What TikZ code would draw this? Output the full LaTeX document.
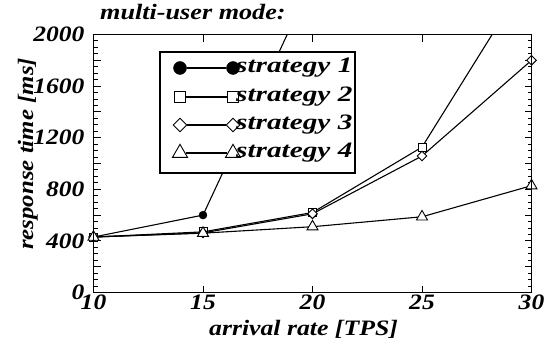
\documentclass[tikz,border=0pt]{standalone}
\usepackage{fontspec}
\usepackage{graphicx}
\setmainfont{Liberation Serif}
\usetikzlibrary{shapes.geometric}
\newcommand\hstretch[2]{\scalebox{#1}[1]{#2}}
\begin{document}
\begin{tikzpicture}[x=1pt,y=1pt,
  lbl/.style={font=\fontsize{22}{26}\selectfont\bfseries\itshape, inner sep=0pt},
  dline/.style={line width=1.1pt},
  mcirc/.style={circle, fill=black, draw=black, inner sep=0pt, minimum size=#1},
  msq/.style={rectangle, fill=white, draw=black, line width=0.9pt, inner sep=0pt, minimum size=#1},
  mdia/.style={diamond, fill=white, draw=black, line width=0.9pt, inner sep=0pt, minimum width=#1, minimum height=#1},
  mtri/.style={isosceles triangle, isosceles triangle apex angle=60, shape border rotate=90, fill=white, draw=black, line width=0.9pt, inner sep=0pt, minimum height=0.8*#1, minimum width=#1},
  frame/.style={line width=1.8pt},
  tk/.style={line width=1pt}
]
\useasboundingbox (0,0) rectangle (549,343);
% title and axis labels
\node[lbl, anchor=base west] (title) at (100,323) {\hstretch{1.19}{multi-user mode:}};
\node[lbl, anchor=base] (xlab) at (303.5,8) {\hstretch{1.17}{arrival rate [TPS]}};
\node[lbl, anchor=base, rotate=90] (ylab) at (33,189) {\hstretch{1.13}{response time [ms]}};
\begin{scope}[shift={(93.5pt,50.5pt)}, x=21.9pt, y=0.129pt]
  % ticks
  \foreach \v in {50,100,...,1950} {
    \draw[tk] (0,\v) -- ++(4pt,0);
    \draw[tk] (20,\v) -- ++(-4pt,0);
  }
  \foreach \v in {200,400,...,1800} {
    \draw[tk] (0,\v) -- ++(7pt,0);
    \draw[tk] (20,\v) -- ++(-7pt,0);
  }
  \foreach \t in {5,10,15} {
    \draw[tk] (\t,0) -- ++(0,7pt);
    \draw[tk] (\t,2000) -- ++(0,-7pt);
  }
  % tick labels
  \foreach \v in {0,400,800,1200,1600,2000}
    \node[lbl, anchor=east] (yl\v) at ([xshift=-9pt]0,\v) {\hstretch{1.16}{\v}};
  \foreach \t/\n in {0/10,5/15,10/20,15/25,20/30}
    \node[lbl, anchor=north] (xl\n) at ([yshift=-2.5pt]\t,0) {\hstretch{1.16}{\n}};
  % data coordinates
  \coordinate (a1) at (0,430);  \coordinate (a2) at (5,600);  \coordinate (a3) at (10,2420);
  \coordinate (b1) at (0,430);  \coordinate (b2) at (5,470);  \coordinate (b3) at (10,620);  \coordinate (b4) at (15,1127); \coordinate (b5) at (20,2490);
  \coordinate (c1) at (0,430);  \coordinate (c2) at (5,462);  \coordinate (c3) at (10,610);  \coordinate (c4) at (15,1058); \coordinate (c5) at (20,1800);
  \coordinate (d1) at (0,430);  \coordinate (d2) at (5,460);  \coordinate (d3) at (10,510);  \coordinate (d4) at (15,587);  \coordinate (d5) at (20,828);
  \begin{scope}
    \clip (0,0) rectangle (20,2000);
    \draw[dline] (a1) -- (a2) -- (a3);
    \draw[dline] (b1) -- (b2) -- (b3) -- (b4) -- (b5);
    \draw[dline] (c1) -- (c2) -- (c3) -- (c4) -- (c5);
    \draw[dline] (d1) -- (d2) -- (d3) -- (d4) -- (d5);
  \end{scope}
  % markers
  \node[mcirc=8pt] (ma1) at (a1) {};
  \node[mcirc=8pt] (ma2) at (a2) {};
  \foreach \p in {b1,b2,b3,b4} \node[msq=8pt] (m\p) at (\p) {};
  \foreach \p in {c1,c2,c3,c4,c5} \node[mdia=10pt] (m\p) at (\p) {};
  \foreach \p in {d1,d2,d3,d4,d5} \node[mtri=11pt] (m\p) at (\p) {};
  % frame
  \draw[frame] (0,0) rectangle (20,2000);
\end{scope}
% legend
\draw[line width=1.3pt, fill=white] (160,170) rectangle (355,291);
\node[mcirc=13pt] (l1a) at (180,275) {};
\node[mcirc=13pt] (l1b) at (233,275) {};
\node[msq=11pt] (l2a) at (180,246) {};
\node[msq=11pt] (l2b) at (233,246) {};
\node[mdia=14pt] (l3a) at (180,218) {};
\node[mdia=14pt] (l3b) at (233,218) {};
\node[mtri=15pt] (l4a) at (180,190) {};
\node[mtri=15pt] (l4b) at (233,190) {};
\draw[dline] (l1a) -- (l1b);
\draw[dline] (l2a) -- (l2b);
\draw[dline] (l3a) -- (l3b);
\draw[dline] (l4a) -- (l4b);
\node[lbl, anchor=west] (t1) at (236,275) {\hstretch{1.33}{strategy 1}};
\node[lbl, anchor=west] (t2) at (236,246) {\hstretch{1.33}{strategy 2}};
\node[lbl, anchor=west] (t3) at (236,218) {\hstretch{1.33}{strategy 3}};
\node[lbl, anchor=west] (t4) at (236,190) {\hstretch{1.33}{strategy 4}};
\end{tikzpicture}
\end{document}
